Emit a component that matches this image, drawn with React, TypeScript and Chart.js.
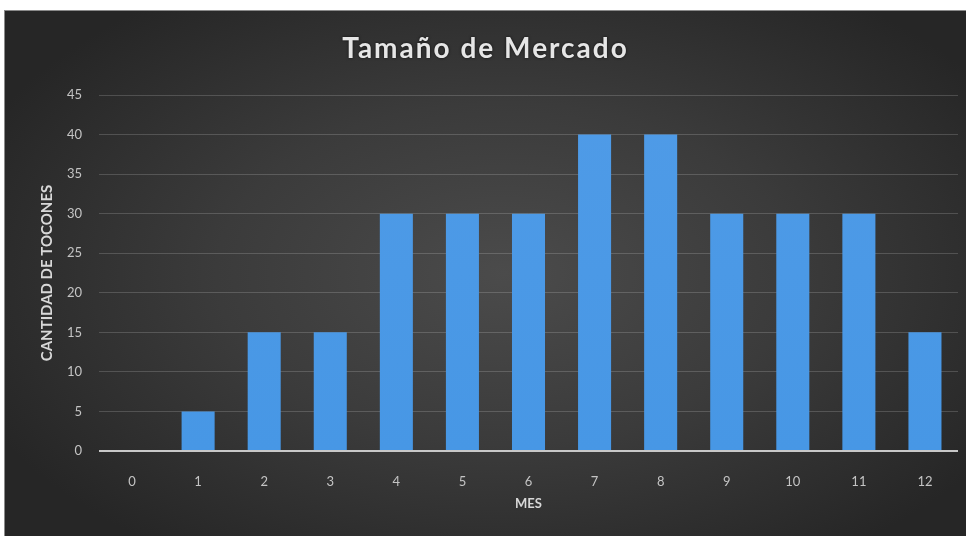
import React, { useEffect, useRef } from "react";
import { Chart, registerables } from "chart.js";

Chart.register(...registerables);

const TITLE = "Tamaño de Mercado";
const X_TITLE = "MES";
const Y_TITLE = "CANTIDAD DE TOCONES";
const MONTHS = ["0", "1", "2", "3", "4", "5", "6", "7", "8", "9", "10", "11", "12"];
const TOCONES = [0, 5, 15, 15, 30, 30, 30, 40, 40, 30, 30, 30, 15];
const Y_MAX = 45;
const Y_STEP = 5;

const FONT = "Lato, 'Open Sans', sans-serif";

const titlePlugin = {
  id: "spacedTitle",
  afterDraw(chart: any) {
    const ctx = chart.ctx as CanvasRenderingContext2D;
    ctx.save();
    ctx.font = `bold 28px ${FONT}`;
    (ctx as any).letterSpacing = "2px";
    ctx.fillStyle = "#e6e6e6";
    ctx.textAlign = "center";
    ctx.textBaseline = "middle";
    ctx.shadowColor = "rgba(0,0,0,0.7)";
    ctx.shadowBlur = 3;
    ctx.fillText(TITLE, chart.width / 2, 38);
    ctx.restore();
  },
};

export default function App() {
  const ref = useRef<HTMLCanvasElement | null>(null);

  useEffect(() => {
    if (!ref.current) return;
    const chart = new Chart(ref.current, {
      type: "bar",
      data: {
        labels: MONTHS,
        datasets: [
          {
            label: Y_TITLE,
            data: TOCONES,
            backgroundColor: (c: any) => {
              const area = c.chart.chartArea;
              if (!area) return "#4a98e4";
              const g = c.chart.ctx.createLinearGradient(0, area.top, 0, area.bottom);
              g.addColorStop(0, "#4f9be7");
              g.addColorStop(1, "#4797e5");
              return g;
            },
            borderWidth: 0,
            barPercentage: 0.5,
            categoryPercentage: 1,
          },
        ],
      },
      options: {
        animation: false,
        responsive: false,
        maintainAspectRatio: false,
        layout: { padding: { top: 84, right: 8, left: 0, bottom: 0 } },
        plugins: {
          legend: { display: false },
          title: { display: false },
          tooltip: { enabled: false },
        },
        scales: {
          x: {
            grid: { display: false, drawTicks: false },
            border: { display: false },
            ticks: {
              color: "#c4c4c4",
              padding: 23,
              font: { family: FONT, size: 13 },
            },
            title: {
              display: true,
              text: X_TITLE,
              color: "#d8d8d8",
              font: { family: FONT, size: 13, weight: "bold" },
              padding: { top: 0, bottom: 24 },
            },
            afterFit: (s: any) => {
              s.height = 85;
            },
          },
          y: {
            min: 0,
            max: Y_MAX,
            ticks: {
              stepSize: Y_STEP,
              color: "#c4c4c4",
              padding: 17,
              font: { family: FONT, size: 13 },
            },
            grid: {
              drawTicks: false,
              color: (c: any) => (c.tick && c.tick.value === 0 ? "#c8c8c8" : "rgba(255,255,255,0.17)"),
              lineWidth: (c: any) => (c.tick && c.tick.value === 0 ? 2 : 1),
            },
            border: { display: false },
            title: {
              display: true,
              text: Y_TITLE,
              color: "#d8d8d8",
              font: { family: FONT, size: 15, weight: "bold" },
              padding: { top: 33, bottom: 0 },
            },
            afterFit: (s: any) => {
              s.width = 94;
            },
          },
        },
      },
      plugins: [titlePlugin],
    });
    return () => chart.destroy();
  }, []);

  return (
    <div
      style={{
        position: "absolute",
        left: 4,
        top: 10,
        width: 962,
        height: 526,
        background:
          "radial-gradient(ellipse 60% 65% at 52% 50%, #4b4b4b 0%, #3b3b3b 50%, #262626 100%)",
        borderTop: "1px solid #8a8a8a",
        borderLeft: "1px solid #8a8a8a",
        boxSizing: "border-box",
      }}
    >
      <canvas ref={ref} width={961} height={525} style={{ display: "block" }} />
    </div>
  );
}
